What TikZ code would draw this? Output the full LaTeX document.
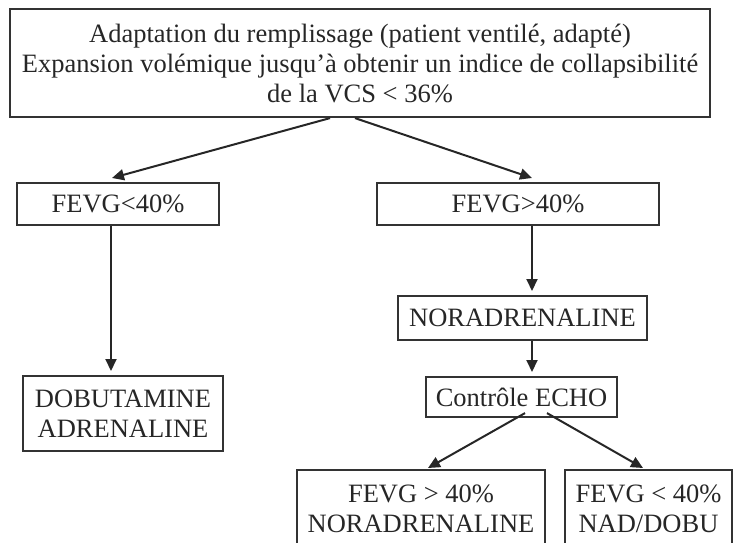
\documentclass[tikz,border=0pt]{standalone}
\usepackage{fontspec}
\setmainfont{Liberation Serif}
\usetikzlibrary{arrows.meta}
\begin{document}
\begin{tikzpicture}[x=1pt, y=-1pt, line width=2.2pt, font=\fontsize{26.5}{30}\selectfont,
		box/.style = {draw=black!80, rectangle, inner sep=0pt, align=center, text=black!85},
		arr/.style = {draw=black!85, line width=2pt, -{Triangle[length=12pt, width=11pt]}}]

		\useasboundingbox (0,0) rectangle (733,543);
		\clip (0,0) rectangle (733,543);

		\node[box, minimum width=700, minimum height=108] (top) at (360,63) {Adaptation du remplissage (patient ventilé, adapté)\\Expansion volémique jusqu’à obtenir un indice de collapsibilité\\de la VCS < 36\%};
		\node[box, minimum width=202, minimum height=42] (fevgbas) at (118,204) {FEVG<40\%};
		\node[box, minimum width=282, minimum height=42] (fevghaut) at (518,204) {FEVG>40\%};
		\node[box, minimum width=200, minimum height=75] (dobu) at (123,413.5) {DOBUTAMINE\\ADRENALINE};
		\node[box, minimum width=249, minimum height=44] (nora) at (522.5,318) {NORADRENALINE};
		\node[box, minimum width=191, minimum height=40] (echo) at (521.5,397) {Contrôle ECHO};
		\node[box, minimum width=248, minimum height=78] (nad) at (421,509) {FEVG > 40\%\\NORADRENALINE};
		\node[box, minimum width=167, minimum height=78] (nadobu) at (648.5,509) {FEVG < 40\%\\NAD/DOBU};

		\coordinate (t1) at (112,178);
		\coordinate (t2) at (532,178);
		\coordinate (t3) at (111,371);
		\coordinate (t4) at (532,291);
		\coordinate (t5) at (532,372);
		\coordinate (t6) at (428,468);
		\coordinate (t7) at (643,468);

		\draw[arr] ([xshift=-30]top.south) -- (t1);
		\draw[arr] ([xshift=-5]top.south) -- (t2);
		\draw[arr] (fevgbas.south -| t3) -- (t3);
		\draw[arr] (fevghaut.south -| t4) -- (t4);
		\draw[arr] (nora.south -| t5) -- (t5);
		\draw[arr] ([xshift=3.5, yshift=5]echo.south) -- (t6);
		\draw[arr] ([xshift=25.5, yshift=5]echo.south) -- (t7);
	\end{tikzpicture}
\end{document}
